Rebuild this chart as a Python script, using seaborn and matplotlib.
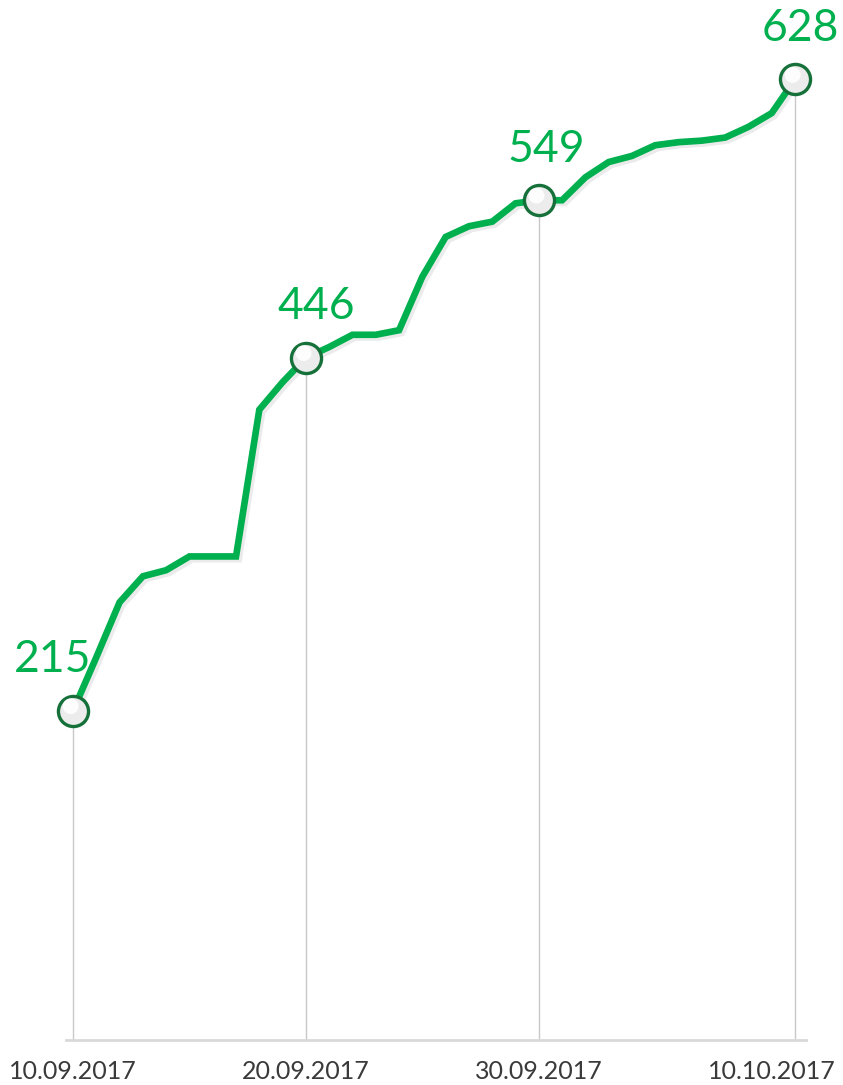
import matplotlib
matplotlib.use('Agg')
import matplotlib.pyplot as plt
import matplotlib.patheffects as pe
import seaborn as sns
import pandas as pd

# daily counts, 10.09.2017 .. 11.10.2017
days = list(range(32))
values = [215, 250, 286, 303, 307, 316, 316, 316, 412, 430,
          446, 453, 461, 461, 464, 499, 525, 532, 535, 547,
          549, 549, 564, 574, 578, 585, 587, 588, 590, 597,
          606, 628]
highlight_days = [0, 10, 20, 31]
tick_days = [0, 10, 20, 30]
tick_labels = ['10.09.2017', '20.09.2017', '30.09.2017', '10.10.2017']

df = pd.DataFrame({'day': days, 'value': values})
hl = df[df['day'].isin(highlight_days)]

sns.set_theme(style='white')
plt.rcParams['font.family'] = ['Lato', 'DejaVu Sans']

green = '#00b04f'

fig = plt.figure(figsize=(8.43, 10.85), dpi=100)
ax = fig.add_axes([0, 45.5 / 1085, 1, 1039.5 / 1085])

# thin grey drop lines under the highlighted points
ax.vlines(hl['day'], 0, hl['value'], color='#c8c8c8', linewidth=1, zorder=1)

sns.lineplot(data=df, x='day', y='value', ax=ax, color=green, linewidth=4.8,
             zorder=3, solid_joinstyle='miter',
             path_effects=[pe.SimpleLineShadow(offset=(2, -2), shadow_color='#000000', alpha=0.08),
                           pe.Normal()])

ax.scatter(hl['day'], hl['value'], s=470, facecolor='#ececec', edgecolor='#16703a',
           linewidth=2.4, zorder=4)
ax.scatter(hl['day'] - 0.1, hl['value'] + 3, s=130, facecolor='white', edgecolor='none',
           alpha=0.9, zorder=5)

label_dx = {0: -20, 10: 10, 20: 7, 31: 5}
for d, v in zip(hl['day'], hl['value']):
    ax.annotate(str(v), (d, v), xytext=(label_dx[d] * 0.72, 22), textcoords='offset points',
                ha='center', va='bottom', fontsize=32, color=green, clip_on=False)

ax.set_xlim(-73 / 23.29, 31 + 48 / 23.29)
ax.set_ylim(0, 680)
ax.set_xticks(tick_days)
ax.set_xticklabels(tick_labels, fontsize=18, color='#3a3a3a', fontweight='normal')
ax.set_yticks([])
ax.tick_params(axis='x', length=0, pad=15)
ax.set_xlabel('')
ax.set_ylabel('')
for s in ['top', 'left', 'right']:
    ax.spines[s].set_visible(False)
ax.spines['bottom'].set_color('#d9d9d9')
ax.spines['bottom'].set_linewidth(2)
ax.spines['bottom'].set_bounds(-0.3, 31.47)

fig.savefig('out.png', dpi=100, facecolor='white')
